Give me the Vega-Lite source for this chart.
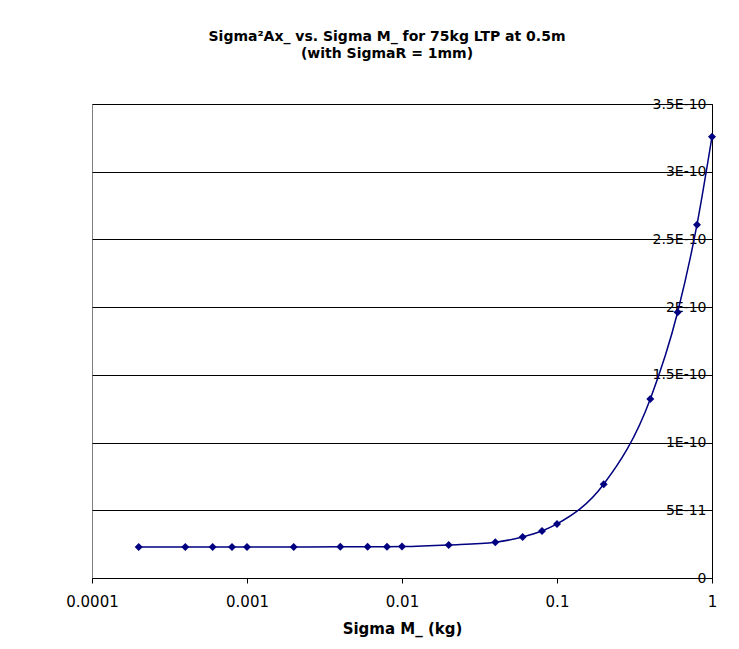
{
  "$schema": "https://vega.github.io/schema/vega-lite/v6.json",
  "width": 620,
  "height": 474,
  "autosize": {"type": "none"},
  "padding": {"left": 92, "top": 104, "right": 27, "bottom": 71},
  "background": "white",
  "title": {
    "text": ["Sigma²Ax_ vs. Sigma M_ for 75kg LTP at 0.5m", "(with SigmaR = 1mm)"],
    "font": "DejaVu Sans",
    "fontSize": 14,
    "fontWeight": "bold",
    "color": "#000000",
    "anchor": "middle",
    "dx": -15,
    "offset": 36,
    "lineHeight": 17
  },
  "config": {
    "view": {"stroke": "#808080", "strokeWidth": 1},
    "axis": {"labelFont": "DejaVu Sans", "titleFont": "DejaVu Sans"}
  },
  "data": {
    "values": [
      {"m": 0.0002, "s": 2.28e-11},
      {"m": 0.0004, "s": 2.28e-11},
      {"m": 0.0006, "s": 2.28e-11},
      {"m": 0.0008, "s": 2.28e-11},
      {"m": 0.001, "s": 2.28e-11},
      {"m": 0.002, "s": 2.29e-11},
      {"m": 0.004, "s": 2.30e-11},
      {"m": 0.006, "s": 2.31e-11},
      {"m": 0.008, "s": 2.31e-11},
      {"m": 0.01, "s": 2.32e-11},
      {"m": 0.02, "s": 2.44e-11},
      {"m": 0.04, "s": 2.64e-11},
      {"m": 0.06, "s": 3.03e-11},
      {"m": 0.08, "s": 3.47e-11},
      {"m": 0.1, "s": 3.99e-11},
      {"m": 0.2, "s": 6.92e-11},
      {"m": 0.4, "s": 1.322e-10},
      {"m": 0.6, "s": 1.962e-10},
      {"m": 0.8, "s": 2.609e-10},
      {"m": 1.0, "s": 3.259e-10}
    ]
  },
  "encoding": {
    "x": {
      "field": "m",
      "type": "quantitative",
      "scale": {"type": "log", "domain": [0.0001, 1], "nice": false},
      "axis": {
        "title": "Sigma M_ (kg)",
        "titleFontSize": 15,
        "titleFontWeight": "bold",
        "titleColor": "#000000",
        "titlePadding": 12,
        "values": [0.0001, 0.001, 0.01, 0.1, 1],
        "format": "~g",
        "labelFontSize": 15,
        "labelColor": "#000000",
        "labelPadding": 11,
        "labelFlush": false,
        "grid": false,
        "domainColor": "#000000",
        "tickColor": "#000000",
        "tickSize": 5
      }
    },
    "y": {
      "field": "s",
      "type": "quantitative",
      "scale": {"domain": [0, 3.5e-10], "nice": false, "zero": true},
      "axis": {
        "title": null,
        "orient": "left",
        "offset": -620,
        "values": [0, 5e-11, 1e-10, 1.5e-10, 2e-10, 2.5e-10, 3e-10, 3.5e-10],
        "labelExpr": "datum.value == 0 ? '0' : upper(format(datum.value, '~e'))",
        "labelFontSize": 14,
        "labelColor": "#000000",
        "labelPadding": 1,
        "grid": true,
        "gridColor": "#000000",
        "gridOpacity": 1,
        "domainColor": "#000000",
        "tickColor": "#000000",
        "tickSize": 5
      }
    }
  },
  "layer": [
    {
      "mark": {"type": "line", "interpolate": "monotone", "color": "#000080", "strokeWidth": 1.5}
    },
    {
      "mark": {"type": "point", "shape": "diamond", "filled": true, "color": "#000080", "size": 64, "opacity": 1}
    }
  ]
}
